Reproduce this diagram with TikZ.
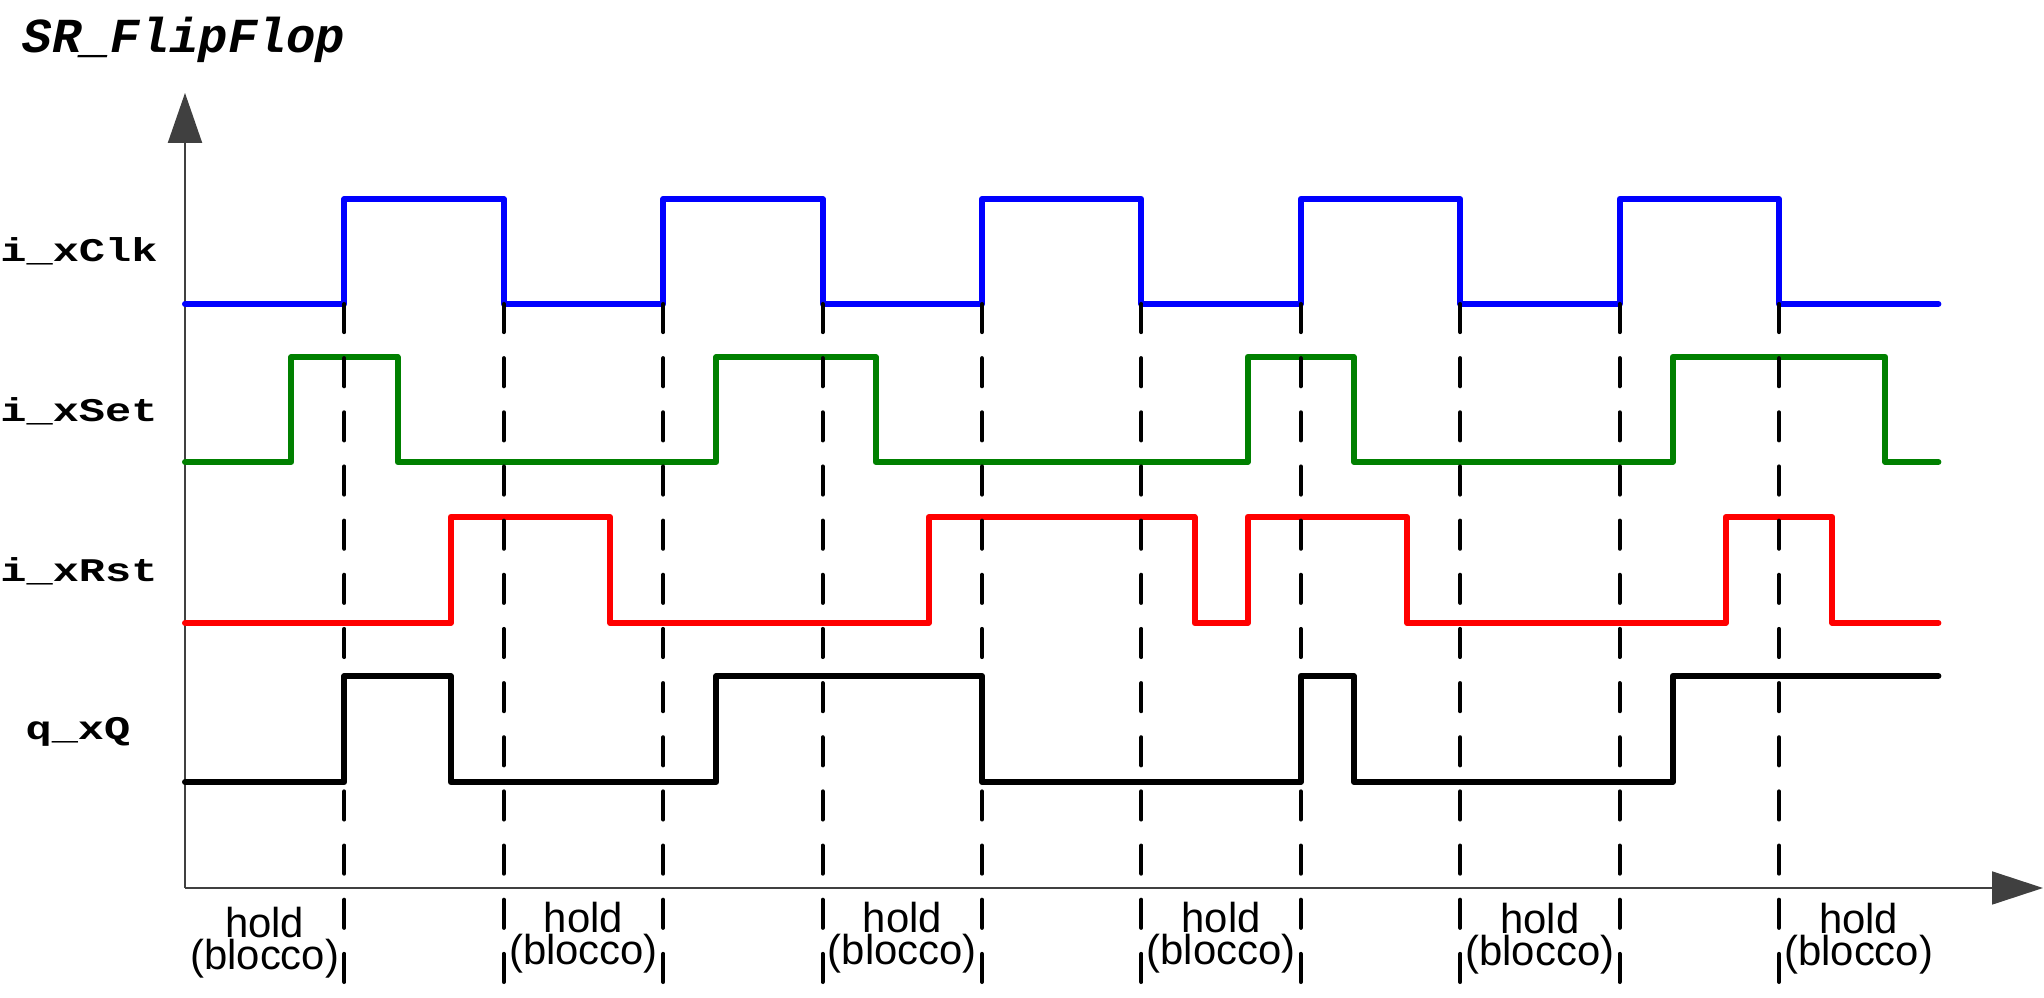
\documentclass[tikz,border=0pt]{standalone}
\usepackage{fontspec}
\usepackage{graphicx}
\setmainfont{Liberation Sans}
\setmonofont{Liberation Mono}
\usetikzlibrary{arrows.meta}
\newcommand\kx[1]{185+159.4*(#1)}
\begin{document}
\begin{tikzpicture}[x=0.01cm,y=-0.01cm,
  sig/.style={line width=1.7pt, line cap=round, line join=round},
  dashline/.style={line width=1.15pt, line cap=round, dash pattern=on 8pt off 7.4pt},
  axisline/.style={line width=0.45pt, draw=black!75},
  signame/.style={font=\ttfamily\bfseries\fontsize{9.4}{11}\selectfont, anchor=base, inner sep=0pt},
  holdtxt/.style={font=\fontsize{11.9}{9.1}\selectfont, align=center, anchor=north, inner sep=0pt},
  titletxt/.style={font=\ttfamily\bfseries\itshape\fontsize{13.9}{16}\selectfont, anchor=base west, inner sep=0pt}]
\useasboundingbox (0,0) rectangle (2044,998);
\definecolor{sigblue}{RGB}{0,0,255}
\definecolor{siggreen}{RGB}{0,128,0}
\definecolor{sigred}{RGB}{255,0,0}

% title
\node[titletxt] (title) at (22,53) {SR\_FlipFlop};

% axes
\coordinate (origin) at (185,888);
\coordinate (ytip) at (185,93);
\coordinate (xtip) at (2043,888);
\draw[axisline, -{Triangle[length=14.2pt,width=9.7pt]}] (origin) -- (ytip);
\draw[axisline, -{Triangle[length=14.5pt,width=9.4pt]}] (origin) -- (xtip);

% signal names
\node[signame] (lclk) at (79,262) {\scalebox{1.32}[1]{i\_xClk}};
\node[signame] (lset) at (79,422) {\scalebox{1.32}[1]{i\_xSet}};
\node[signame] (lrst) at (79,582) {\scalebox{1.32}[1]{i\_xRst}};
\node[signame] (lq) at (78,740) {\scalebox{1.32}[1]{q\_xQ}};

% clock
\draw[sig, draw=sigblue] ({\kx{0}},304) -| ({\kx{1}},199) -| ({\kx{2}},304) -| ({\kx{3}},199)
  -| ({\kx{4}},304) -| ({\kx{5}},199) -| ({\kx{6}},304) -| ({\kx{7}},199) -| ({\kx{8}},304)
  -| ({\kx{9}},199) -| ({\kx{10}},304) -- ({\kx{11}},304);

% set
\draw[sig, draw=siggreen] ({\kx{0}},462) -| ({\kx{2/3}},357) -| ({\kx{4/3}},462) -| ({\kx{10/3}},357)
  -| ({\kx{13/3}},462) -| ({\kx{20/3}},357) -| ({\kx{22/3}},462) -| ({\kx{28/3}},357)
  -| ({\kx{32/3}},462) -- ({\kx{11}},462);

% reset
\draw[sig, draw=sigred] ({\kx{0}},623) -| ({\kx{5/3}},517) -| ({\kx{8/3}},623) -| ({\kx{14/3}},517)
  -| ({\kx{19/3}},623) -| ({\kx{20/3}},517) -| ({\kx{23/3}},623) -| ({\kx{29/3}},517)
  -| ({\kx{31/3}},623) -- ({\kx{11}},623);

% output
\draw[sig, draw=black] ({\kx{0}},782) -| ({\kx{1}},676) -| ({\kx{5/3}},782) -| ({\kx{10/3}},676)
  -| ({\kx{5}},782) -| ({\kx{7}},676) -| ({\kx{22/3}},782) -| ({\kx{28/3}},676) -- ({\kx{11}},676);

% dashed clock-edge markers
\foreach \k in {1,...,10}
  \draw[dashline] ({\kx{\k}},304) -- ({\kx{\k}},984);

% hold labels
\foreach \k/\yt [count=\i] in {0.5/906, 2.5/901, 4.5/901, 6.5/901, 8.5/902, 10.5/902} {
  \node[holdtxt] (hold\i) at ({\kx{\k}},\yt) {hold\\(blocco)};
}
\end{tikzpicture}
\end{document}
